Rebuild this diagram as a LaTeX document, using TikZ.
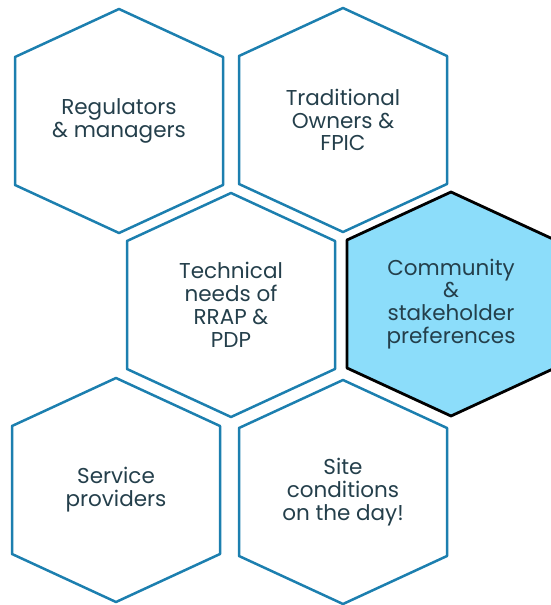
\documentclass[tikz,border=0pt]{standalone}
\usepackage{fontspec}
\setmainfont{Poppins}
\usetikzlibrary{calc,backgrounds}
\definecolor{hexblue}{HTML}{1C7FAF}
\definecolor{hexfill}{HTML}{8CDDFA}
\definecolor{hexink}{HTML}{243F4B}

% outline of one cell round a named node
\newcommand{\hexcell}[2][]{%
  \draw[hexline,#1] ($(#2)+(0,-112)$) -- ++(104,48) -- ++(0,128)
    -- ++(-104,48) -- ++(-104,-48) -- ++(0,-128) -- cycle;}

\begin{document}
\begin{tikzpicture}[x=1pt,y=-1pt,
  hexlabel/.style={align=center,text=hexink,
    font=\fontsize{21.5}{22.8}\selectfont},
  hexline/.style={hexblue,line width=2.5pt,line join=round},
  hexpick/.style={draw=black,fill=hexfill,line width=2.8pt}]

  \useasboundingbox (0,0) rectangle (550,605);

  % ---- Top row ----------------------------------------------
  \node[hexlabel] (regul) at (119,121) {Regulators\\\& managers};
  \hexcell{regul}
  \node[hexlabel] (owners) at (343,120) {Traditional\\Owners \&\\FPIC};
  \hexcell{owners}

  % ---- Middle row -------------------------------------------
  \node[hexlabel] (techn) at (231,305) {Technical\\needs of\\RRAP \&\\PDP};
  \hexcell{techn}
  \node[hexlabel] (commun) at (451,304) {Community\\\&\\stakeholder\\preferences};
  \begin{scope}[on background layer]
    \hexcell[hexpick]{commun}
  \end{scope}

  % ---- Bottom row -------------------------------------------
  \node[hexlabel] (servic) at (116,490) {Service\\providers};
  \hexcell{servic}
  \node[hexlabel] (sitecon) at (343,492) {Site\\conditions\\on the day!};
  \hexcell{sitecon}

\end{tikzpicture}
\end{document}
